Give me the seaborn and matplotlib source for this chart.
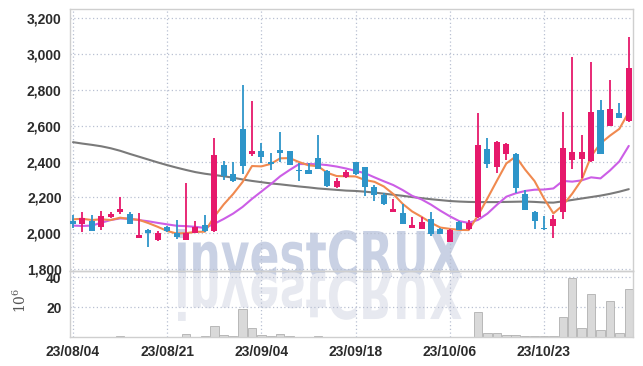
import numpy as np
import pandas as pd
import matplotlib
matplotlib.use("Agg")
import matplotlib.pyplot as plt
import seaborn as sns
from matplotlib.textpath import TextPath
from matplotlib.patches import PathPatch
from matplotlib.transforms import Affine2D
from matplotlib.font_manager import FontProperties
from matplotlib.ticker import FuncFormatter

# trading days shown on the chart
dates = ["23/08/04", "23/08/07", "23/08/08", "23/08/09", "23/08/10", "23/08/11", "23/08/14", "23/08/16", "23/08/17", "23/08/18",
         "23/08/21", "23/08/22", "23/08/23", "23/08/24", "23/08/25", "23/08/28", "23/08/29", "23/08/30", "23/08/31", "23/09/01",
         "23/09/04", "23/09/05", "23/09/06", "23/09/07", "23/09/08", "23/09/11", "23/09/12", "23/09/13", "23/09/14", "23/09/15",
         "23/09/18", "23/09/19", "23/09/20", "23/09/21", "23/09/22", "23/09/25", "23/09/26", "23/09/27", "23/10/04", "23/10/05",
         "23/10/06", "23/10/10", "23/10/11", "23/10/12", "23/10/13", "23/10/16", "23/10/17", "23/10/18", "23/10/19", "23/10/20",
         "23/10/23", "23/10/24", "23/10/25", "23/10/26", "23/10/27", "23/10/30", "23/10/31", "23/11/01", "23/11/02", "23/11/03"]

opens = [2070, 2050, 2070, 2035, 2090, 2118, 2110, 1975, 2017, 1960,
         2037, 2004, 1965, 2004, 2044, 2011, 2378, 2333, 2583, 2440,
         2456, 2400, 2467, 2456, 2355, 2355, 2422, 2346, 2257, 2313,
         2396, 2370, 2259, 2211, 2118, 2115, 2030, 2026, 2078, 2022,
         1954, 2065, 2022, 2091, 2472, 2368, 2441, 2444, 2217, 2120,
         2028, 2041, 2118, 2407, 2415, 2402, 2689, 2600, 2670, 2624]
highs = [2100, 2120, 2100, 2125, 2120, 2200, 2118, 2113, 2026, 2013,
         2040, 2072, 2278, 2070, 2100, 2532, 2402, 2398, 2824, 2735,
         2504, 2446, 2565, 2458, 2394, 2394, 2548, 2352, 2309, 2352,
         2398, 2372, 2268, 2222, 2189, 2161, 2093, 2093, 2119, 2031,
         2026, 2067, 2072, 2670, 2532, 2513, 2502, 2448, 2241, 2122,
         2096, 2100, 2674, 2980, 2546, 2952, 2744, 2852, 2726, 3093]
lows = [2030, 2005, 2013, 2020, 2085, 2105, 2050, 1974, 1926, 1958,
        2005, 1968, 1963, 2003, 2008, 2008, 2295, 2287, 2328, 2430,
        2393, 2355, 2398, 2378, 2291, 2332, 2360, 2257, 2255, 2309,
        2325, 2210, 2178, 2160, 2117, 2052, 2028, 2024, 1985, 1994,
        1952, 2016, 2020, 2088, 2365, 2337, 2411, 2226, 2128, 2026,
        2020, 1972, 2081, 2361, 2309, 2400, 2441, 2598, 2641, 2620]
closes = [2050, 2085, 2015, 2095, 2105, 2133, 2050, 1993, 2002, 2004,
          2015, 1980, 2004, 2037, 2011, 2435, 2317, 2294, 2374, 2456,
          2424, 2385, 2450, 2380, 2346, 2333, 2361, 2263, 2294, 2341,
          2328, 2257, 2215, 2163, 2133, 2054, 2044, 2065, 1998, 1998,
          2018, 2018, 2059, 2494, 2385, 2507, 2500, 2252, 2130, 2068,
          2022, 2081, 2478, 2454, 2454, 2676, 2443, 2693, 2643, 2920]

ma5 = [2078, 2081, 2074, 2078, 2074, 2087, 2080, 2075, 2057, 2036,
       2013, 1999, 2001, 2008, 2009, 2093, 2161, 2219, 2286, 2375,
       2373, 2387, 2418, 2419, 2397, 2379, 2374, 2337, 2319, 2318,
       2317, 2297, 2287, 2261, 2219, 2164, 2122, 2092, 2059, 2032,
       2025, 2019, 2018, 2100, 2195, 2293, 2389, 2428, 2355, 2291,
       2194, 2111, 2156, 2221, 2298, 2429, 2501, 2544, 2582, 2675]
ma10 = [2043, 2041, 2043, 2059, 2074, 2083, 2081, 2074, 2067, 2058,
        2050, 2042, 2040, 2036, 2030, 2053, 2080, 2110, 2147, 2192,
        2233, 2274, 2318, 2353, 2386, 2386, 2385, 2380, 2372, 2361,
        2348, 2335, 2312, 2290, 2269, 2241, 2209, 2189, 2160, 2126,
        2095, 2068, 2058, 2075, 2110, 2159, 2204, 2223, 2236, 2243,
        2244, 2250, 2292, 2288, 2295, 2312, 2306, 2350, 2401, 2487]
ma60 = [2508, 2500, 2493, 2485, 2474, 2460, 2443, 2427, 2411, 2395,
        2380, 2366, 2353, 2341, 2332, 2325, 2318, 2310, 2300, 2292,
        2285, 2278, 2273, 2267, 2261, 2256, 2250, 2246, 2242, 2238,
        2236, 2232, 2227, 2221, 2215, 2209, 2202, 2196, 2190, 2185,
        2180, 2177, 2175, 2174, 2174, 2174, 2175, 2176, 2177, 2175,
        2172, 2171, 2178, 2186, 2194, 2202, 2210, 2220, 2232, 2246]

# volume in millions
volume = [0.3, 0.2, 0.3, 0.2, 0.2, 0.4, 0.2, 0.3, 0.3, 0.2,
          0.2, 0.3, 1.9, 0.3, 0.4, 7.2, 1.2, 0.6, 18.8, 5.9,
          1.2, 0.6, 1.9, 0.4, 0.3, 0.2, 0.6, 0.3, 0.2, 0.2,
          0.3, 0.3, 0.2, 0.2, 0.1, 0.2, 0.1, 0.1, 0.2, 0.1,
          0.2, 0.1, 0.1, 16.7, 2.7, 2.7, 1.1, 1.1, 0.5, 0.5,
          0.5, 0.5, 13.3, 39.8, 5.9, 28.9, 4.5, 24.2, 2.7, 32.3]

df = pd.DataFrame({"day": np.arange(len(dates)), "open": opens, "high": highs, "low": lows,
                   "close": closes, "ma5": ma5, "ma10": ma10, "ma60": ma60, "volume": volume})

UP = "#e6196b"
DOWN = "#2e95c9"
GRID = "#b9c0d2"
TXT = "#2b2b2b"

sns.set_style("white")
plt.rcParams["font.family"] = ["Liberation Sans", "DejaVu Sans"]

fig = plt.figure(figsize=(6.43, 3.66), dpi=100)
W, H = 643, 366
ax1 = fig.add_axes([70 / W, 1 - 271 / H, 563 / W, 262 / H])
ax2 = fig.add_axes([70 / W, 1 - 337 / H, 563 / W, 66 / H], sharex=ax1)
for ax in (ax1, ax2):
    ax.patch.set_visible(False)

# watermark + reflection behind the axes
tp = TextPath((0, 0), "investCRUX", size=1, prop=FontProperties(family="DejaVu Sans", weight="bold"))
ext = tp.get_extents()
sx = 284 / ext.width
sy = 46 / 0.729
base = H - 277
wm = PathPatch(tp, transform=Affine2D().translate(-ext.x0, 0).scale(sx, sy).translate(178, base),
               facecolor="#c9d1e4", edgecolor="none", zorder=-2)
refl = PathPatch(tp, transform=Affine2D().translate(-ext.x0, 0).scale(sx, -sy).translate(178, base + 4),
                 facecolor="#e7e9f0", edgecolor="none", zorder=-2)
fig.add_artist(wm)
fig.add_artist(refl)

# moving averages
sns.lineplot(data=df, x="day", y="ma60", ax=ax1, color="#7a7a7a", lw=1.5, zorder=2)
sns.lineplot(data=df, x="day", y="ma10", ax=ax1, color="#cc5ee6", lw=1.5, zorder=2)
sns.lineplot(data=df, x="day", y="ma5", ax=ax1, color="#f0894f", lw=1.5, zorder=2)

# candles
up = df["close"] >= df["open"]
cols = np.where(up, UP, DOWN)
ax1.vlines(df["day"], df["low"], df["high"], colors=cols, lw=1.3, zorder=3)
body_lo = np.minimum(df["open"], df["close"])
body_h = np.maximum((df["close"] - df["open"]).abs(), 4)
ax1.bar(df["day"], body_h, bottom=body_lo, width=0.64, color=cols, lw=0, zorder=4)

# volume
ax2.bar(df["day"], df["volume"], width=0.9, color="#d9d9d9", edgecolor="#b0b0b0", lw=0.6, zorder=2)

ax1.set_xlim(-0.32, 59.45)
ax1.set_ylim(1790, 3250)
ax1.set_yticks(range(1800, 3201, 200))
ax1.yaxis.set_major_formatter(FuncFormatter(lambda v, p: f"{int(v):,}"))
ax2.set_ylim(0, 44.2)
ax2.set_yticks([20, 40])

ticks = list(range(0, len(dates), 10))
ax2.set_xticks(ticks)
ax2.set_xticklabels([dates[i] for i in ticks])
ax1.tick_params(axis="x", labelbottom=False)

for ax in (ax1, ax2):
    ax.set_xlabel("")
    ax.set_ylabel("")
    ax.grid(True, color=GRID, lw=0.9, linestyle=(0, (1, 2)))
    ax.set_axisbelow(True)
    ax.tick_params(length=0, labelsize=10, labelcolor=TXT, pad=6)
    for lab in ax.get_xticklabels() + ax.get_yticklabels():
        lab.set_fontweight("bold")
    for s in ax.spines.values():
        s.set_color("#cfcfcf")
        s.set_linewidth(1)

ax2.set_ylabel(r"$10^{6}$", fontsize=10, color="#555555", math_fontfamily="dejavuserif")
ax2.yaxis.set_label_coords(-0.072, 0.55)

fig.savefig("out.png", dpi=100)
